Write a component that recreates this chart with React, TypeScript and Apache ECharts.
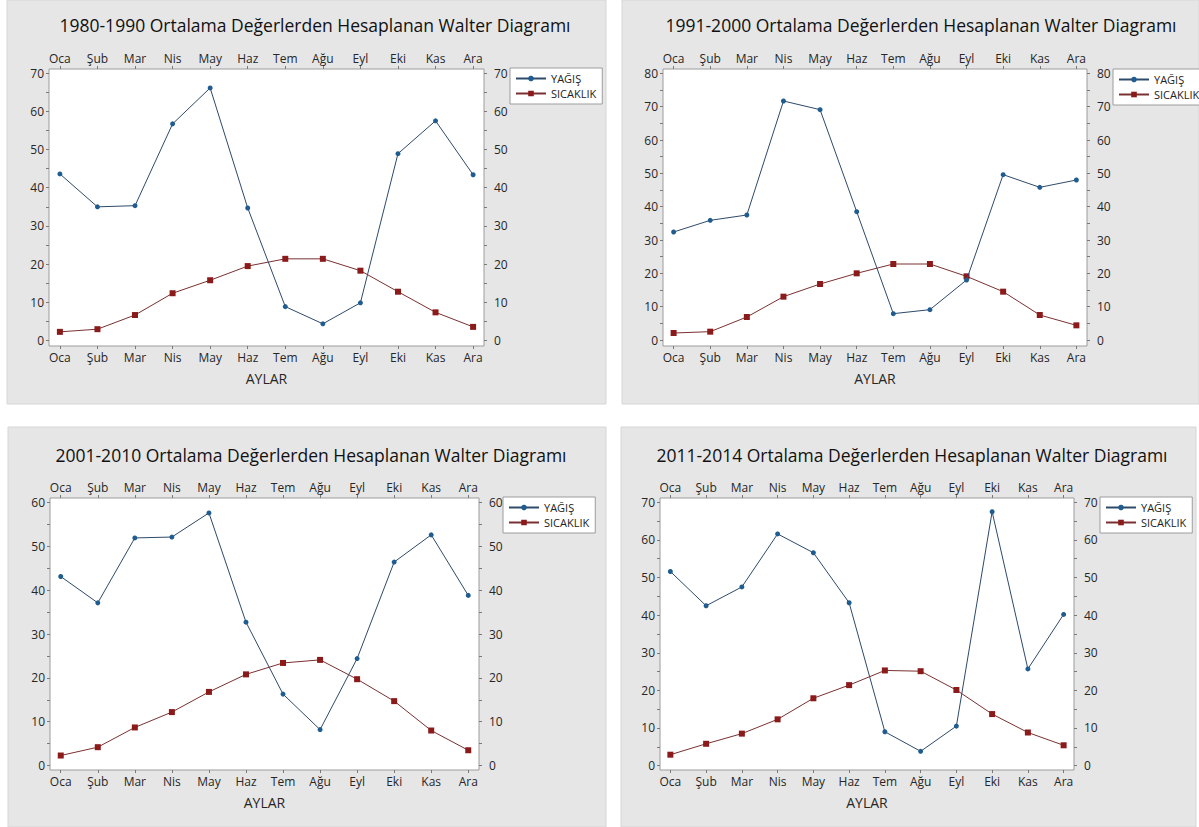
import React, { useEffect, useRef } from 'react';
import * as echarts from 'echarts';

const MONTHS = ['Oca', 'Şub', 'Mar', 'Nis', 'May', 'Haz', 'Tem', 'Ağu', 'Eyl', 'Eki', 'Kas', 'Ara'];
const PERIODS = ['1980-1990', '1991-2000', '2001-2010', '2011-2014'];
const SERIES_NAMES = ['YAĞIŞ', 'SICAKLIK'];
const X_AXIS_NAME = 'AYLAR';

const YAGIS_1980_1990 = [43.6, 35.0, 35.3, 56.7, 66.1, 34.7, 8.9, 4.4, 9.9, 48.9, 57.5, 43.4];
const SICAKLIK_1980_1990 = [2.3, 3.0, 6.7, 12.4, 15.8, 19.5, 21.4, 21.4, 18.3, 12.8, 7.4, 3.6];
const YAGIS_1991_2000 = [32.4, 35.9, 37.5, 71.7, 69.1, 38.5, 7.9, 9.1, 18.0, 49.6, 45.8, 48.0];
const SICAKLIK_1991_2000 = [2.1, 2.5, 6.9, 13.0, 16.8, 20.0, 22.8, 22.8, 19.1, 14.5, 7.5, 4.4];
const YAGIS_2001_2010 = [43.1, 37.1, 51.9, 52.1, 57.6, 32.7, 16.3, 8.2, 24.4, 46.4, 52.6, 38.8];
const SICAKLIK_2001_2010 = [2.3, 4.2, 8.7, 12.2, 16.8, 20.8, 23.4, 24.1, 19.7, 14.7, 8.0, 3.5];
const YAGIS_2011_2014 = [51.6, 42.5, 47.5, 61.6, 56.6, 43.3, 9.0, 3.8, 10.5, 67.5, 25.7, 40.2];
const SICAKLIK_2011_2014 = [2.9, 5.8, 8.5, 12.3, 17.9, 21.4, 25.3, 25.1, 20.1, 13.7, 8.8, 5.4];

const Y_LABELS_70 = [0, 10, 20, 30, 40, 50, 60, 70];
const Y_LABELS_80 = [0, 10, 20, 30, 40, 50, 60, 70, 80];
const Y_LABELS_60 = [0, 10, 20, 30, 40, 50, 60];
const Y_TICKS_70 = [0, 5, 10, 15, 20, 25, 30, 35, 40, 45, 50, 55, 60, 65, 70];
const Y_TICKS_80 = [0, 5, 10, 15, 20, 25, 30, 35, 40, 45, 50, 55, 60, 65, 70, 75, 80];
const Y_TICKS_60 = [0, 5, 10, 15, 20, 25, 30, 35, 40, 45, 50, 55, 60];

const YAGIS = [YAGIS_1980_1990, YAGIS_1991_2000, YAGIS_2001_2010, YAGIS_2011_2014];
const SICAKLIK = [SICAKLIK_1980_1990, SICAKLIK_1991_2000, SICAKLIK_2001_2010, SICAKLIK_2011_2014];
const Y_LABELS = [Y_LABELS_70, Y_LABELS_80, Y_LABELS_60, Y_LABELS_70];
const Y_TICKS = [Y_TICKS_70, Y_TICKS_80, Y_TICKS_60, Y_TICKS_70];

// layout (positions only)
const PANELS = [
  { bg: [7, 0, 599, 404], grid: { left: 49, top: 69, width: 435, height: 277 }, tx: 315, ty: 25, lg: { left: 510, top: 68 }, yMin: -1.4, yMax: 71.05 },
  { bg: [622, 0, 577, 404], grid: { left: 663, top: 69, width: 424, height: 277 }, tx: 921, ty: 25, lg: { left: 1113, top: 69 }, yMin: -1.8, yMax: 81.3 },
  { bg: [8, 427, 598, 400], grid: { left: 50, top: 498, width: 429, height: 272 }, tx: 311, ty: 455, lg: { left: 503, top: 497 }, yMin: -1.0, yMax: 61.0 },
  { bg: [621, 427, 575, 400], grid: { left: 660, top: 498, width: 414, height: 272 }, tx: 912, ty: 455, lg: { left: 1100, top: 497 }, yMin: -1.17, yMax: 71.15 },
];

const FONT = '"Open Sans", "Noto Sans", sans-serif';
const TEXT = '#262626';
const TICK = '#7a7a7a';
const X_IDX = MONTHS.map((_, i) => i);

export default function App() {
  const ref = useRef<HTMLDivElement>(null);
  useEffect(() => {
    if (!ref.current) return;
    const chart = echarts.init(ref.current, undefined, { renderer: 'svg' });
    const grids: any[] = [];
    const xAxes: any[] = [];
    const yAxes: any[] = [];
    const series: any[] = [];
    const legends: any[] = [];
    const graphics: any[] = [];

    PANELS.forEach((p, i) => {
      graphics.push({
        type: 'rect', z: -10, silent: true,
        shape: { x: p.bg[0], y: p.bg[1], width: p.bg[2], height: p.bg[3] },
        style: { fill: '#e6e6e6', stroke: '#d6d6d6', lineWidth: 1 },
      });
      graphics.push({
        type: 'text', z: 10, x: p.tx, y: p.ty,
        style: {
          text: `${PERIODS[i]} Ortalama Değerlerden Hesaplanan Walter Diagramı`,
          fontSize: 17.5, fontFamily: FONT, fill: '#111', textAlign: 'center', textVerticalAlign: 'middle',
        },
      });
      grids.push({
        ...p.grid, show: true, backgroundColor: '#ffffff', borderColor: '#9c9c9c', borderWidth: 1, containLabel: false,
      });
      const xBase = {
        type: 'value', gridIndex: i, min: -0.29, max: 11.29,
        axisLine: { show: false, onZero: false },
        splitLine: { show: false },
        axisTick: { show: true, customValues: X_IDX, length: 3, lineStyle: { color: TICK } },
        axisLabel: {
          customValues: X_IDX, formatter: (v: number) => MONTHS[Math.round(v)],
          fontSize: 12, color: TEXT, fontFamily: FONT, margin: 5,
        },
      };
      xAxes.push({
        ...xBase, position: 'bottom', name: X_AXIS_NAME, nameLocation: 'middle', nameGap: 25,
        nameTextStyle: { fontSize: 14, color: TEXT, fontFamily: FONT },
      });
      xAxes.push({ ...xBase, position: 'top' });
      const yBase = {
        type: 'value', gridIndex: i, min: p.yMin, max: p.yMax,
        axisLine: { show: false, onZero: false },
        splitLine: { show: false },
        axisTick: { show: true, customValues: Y_TICKS[i], length: 3, lineStyle: { color: TICK } },
      };
      yAxes.push({
        ...yBase, position: 'left',
        axisLabel: { customValues: Y_LABELS[i], fontSize: 12, color: TEXT, fontFamily: FONT, margin: 5 },
      });
      yAxes.push({
        ...yBase, position: 'right',
        axisLabel: { customValues: Y_LABELS[i], fontSize: 12, color: TEXT, fontFamily: FONT, margin: 10 },
      });
      series.push({
        name: SERIES_NAMES[0], type: 'line', xAxisIndex: i * 2, yAxisIndex: i * 2,
        data: YAGIS[i].map((v, k) => [k, v]),
        symbol: 'circle', symbolSize: 5,
        lineStyle: { color: '#2e4a6a', width: 1 },
        itemStyle: { color: '#1f5c8f' },
        z: 3,
      });
      series.push({
        name: SERIES_NAMES[1], type: 'line', xAxisIndex: i * 2, yAxisIndex: i * 2,
        data: SICAKLIK[i].map((v, k) => [k, v]),
        symbol: 'rect', symbolSize: 6,
        lineStyle: { color: '#7a3030', width: 1 },
        itemStyle: { color: '#8b1a1a' },
        z: 2,
      });
      legends.push({
        left: p.lg.left, top: p.lg.top, orient: 'vertical',
        backgroundColor: '#ffffff', borderColor: '#9c9c9c', borderWidth: 1, borderRadius: 0,
        padding: [5, 6, 5, 5], itemGap: 4, itemWidth: 30, itemHeight: 7,
        textStyle: { fontSize: 11, color: '#222', fontFamily: FONT },
        data: SERIES_NAMES, selectedMode: false,
      });
    });

    chart.setOption({
      animation: false,
      backgroundColor: '#ffffff',
      textStyle: { fontFamily: FONT },
      grid: grids,
      xAxis: xAxes,
      yAxis: yAxes,
      series,
      legend: legends,
      graphic: graphics,
    });
    return () => chart.dispose();
  }, []);
  return (
    <div style={{ position: 'absolute', left: 0, top: 0, width: 1199, height: 827, background: '#fff' }}>
      <div ref={ref} style={{ width: 1199, height: 827 }} />
    </div>
  );
}
